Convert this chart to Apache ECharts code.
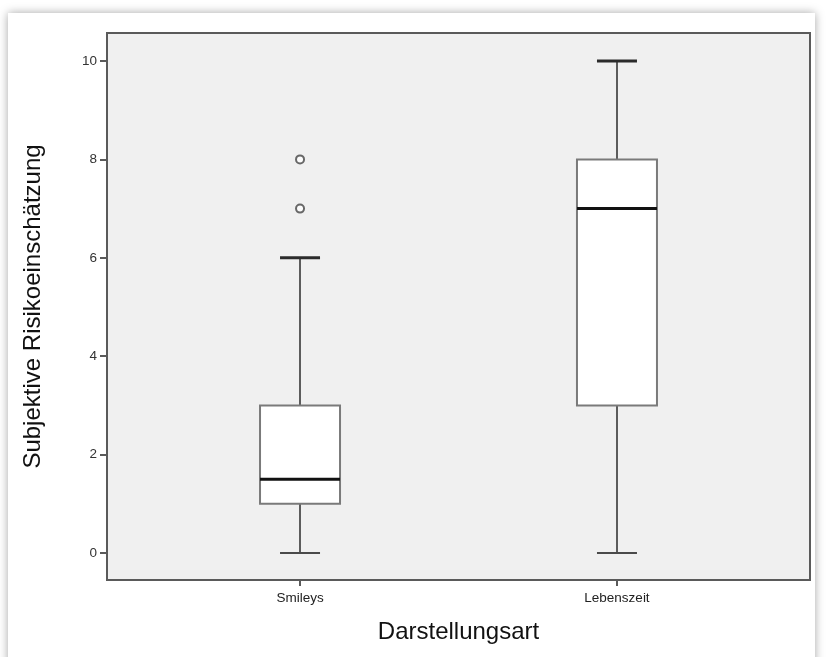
<!DOCTYPE html>
<html>
<head>
<meta charset="utf-8">
<script src="https://cdn.jsdelivr.net/npm/echarts@6/dist/echarts.min.js"></script>
<style>
  html, body { margin: 0; padding: 0; background: #ffffff; }
  #panel { position: absolute; left: 8px; top: 13px; width: 807px; height: 700px; background: #ffffff; box-shadow: 0 0 9px rgba(0,0,0,0.35); }
  #chart { position: absolute; left: 0; top: 0; width: 828px; height: 657px; }
</style>
</head>
<body>
<div id="panel"></div>
<div id="chart"></div>
<script>
const categories = ['Smileys', 'Lebenszeit'];
const minValues = [0, 0];
const q1Values = [1, 3];
const medianValues = [1.5, 7];
const q3Values = [3, 8];
const maxValues = [6, 10];
const outlierCategory = [0, 0];
const outlierValues = [7, 8];
const yTicks = [0, 2, 4, 6, 8, 10];

const boxData = categories.map((c, i) => [i, minValues[i], q1Values[i], medianValues[i], q3Values[i], maxValues[i]]);
const outlierData = outlierValues.map((v, i) => [outlierCategory[i], v]);

const chart = echarts.init(document.getElementById('chart'), null, { renderer: 'canvas' });

function renderBox(params, api) {
  const x = api.value(0);
  const pMin = api.coord([x, api.value(1)]);
  const pQ1 = api.coord([x, api.value(2)]);
  const pMed = api.coord([x, api.value(3)]);
  const pQ3 = api.coord([x, api.value(4)]);
  const pMax = api.coord([x, api.value(5)]);
  const cx = pMin[0];
  const bw = 80, cw = 40;
  return {
    type: 'group',
    children: [
      { type: 'line', shape: { x1: cx, y1: pQ3[1], x2: cx, y2: pMax[1] }, style: { stroke: '#5c5c5c', lineWidth: 2 } },
      { type: 'line', shape: { x1: cx, y1: pQ1[1], x2: cx, y2: pMin[1] }, style: { stroke: '#5c5c5c', lineWidth: 2 } },
      { type: 'line', shape: { x1: cx - cw / 2, y1: pMax[1], x2: cx + cw / 2, y2: pMax[1] }, style: { stroke: '#2b2b2b', lineWidth: 3 } },
      { type: 'line', shape: { x1: cx - cw / 2, y1: pMin[1], x2: cx + cw / 2, y2: pMin[1] }, style: { stroke: '#4a4a4a', lineWidth: 2 } },
      { type: 'rect', shape: { x: cx - bw / 2, y: pQ3[1], width: bw, height: pQ1[1] - pQ3[1] }, style: { fill: '#ffffff', stroke: '#7a7a7a', lineWidth: 2 } },
      { type: 'line', shape: { x1: cx - bw / 2, y1: pMed[1], x2: cx + bw / 2, y2: pMed[1] }, style: { stroke: '#111111', lineWidth: 3 } }
    ]
  };
}

chart.setOption({
  backgroundColor: 'transparent',
  animation: false,
  textStyle: { fontFamily: 'Liberation Sans, Arial, sans-serif' },
  grid: {
    left: 107, right: 18, top: 33, bottom: 77,
    show: true, backgroundColor: '#f0f0f0', borderColor: '#5a5a5a', borderWidth: 2
  },
  xAxis: {
    type: 'value',
    min: -0.609, max: 1.609,
    splitLine: { show: false },
    axisLine: { show: true, onZero: false, lineStyle: { color: '#5a5a5a', width: 2 } },
    axisTick: { show: true, customValues: [0, 1], length: 6, lineStyle: { color: '#5a5a5a', width: 2 } },
    axisLabel: {
      customValues: [0, 1], margin: 11, color: '#222', fontSize: 13.5,
      formatter: v => categories[Math.round(v)]
    },
    name: 'Darstellungsart', nameLocation: 'middle', nameGap: 40,
    nameTextStyle: { fontSize: 24, color: '#111' }
  },
  yAxis: {
    type: 'value',
    min: -0.549, max: 10.569,
    splitLine: { show: false },
    axisLine: { show: true, onZero: false, lineStyle: { color: '#5a5a5a', width: 2 } },
    axisTick: { show: true, customValues: yTicks, length: 7, lineStyle: { color: '#5a5a5a', width: 2 } },
    axisLabel: { customValues: yTicks, margin: 10, color: '#333', fontSize: 13.5 },
    name: 'Subjektive Risikoeinschätzung', nameLocation: 'middle', nameGap: 62,
    nameTextStyle: { fontSize: 24, color: '#111' }
  },
  series: [
    {
      type: 'custom',
      renderItem: renderBox,
      data: boxData,
      encode: { x: 0, y: [1, 2, 3, 4, 5] },
      silent: true
    },
    {
      type: 'scatter',
      data: outlierData,
      symbol: 'emptyCircle',
      symbolSize: 8,
      itemStyle: { color: '#444', borderColor: '#444', borderWidth: 1.6 },
      silent: true
    }
  ]
});
</script>
</body>
</html>
